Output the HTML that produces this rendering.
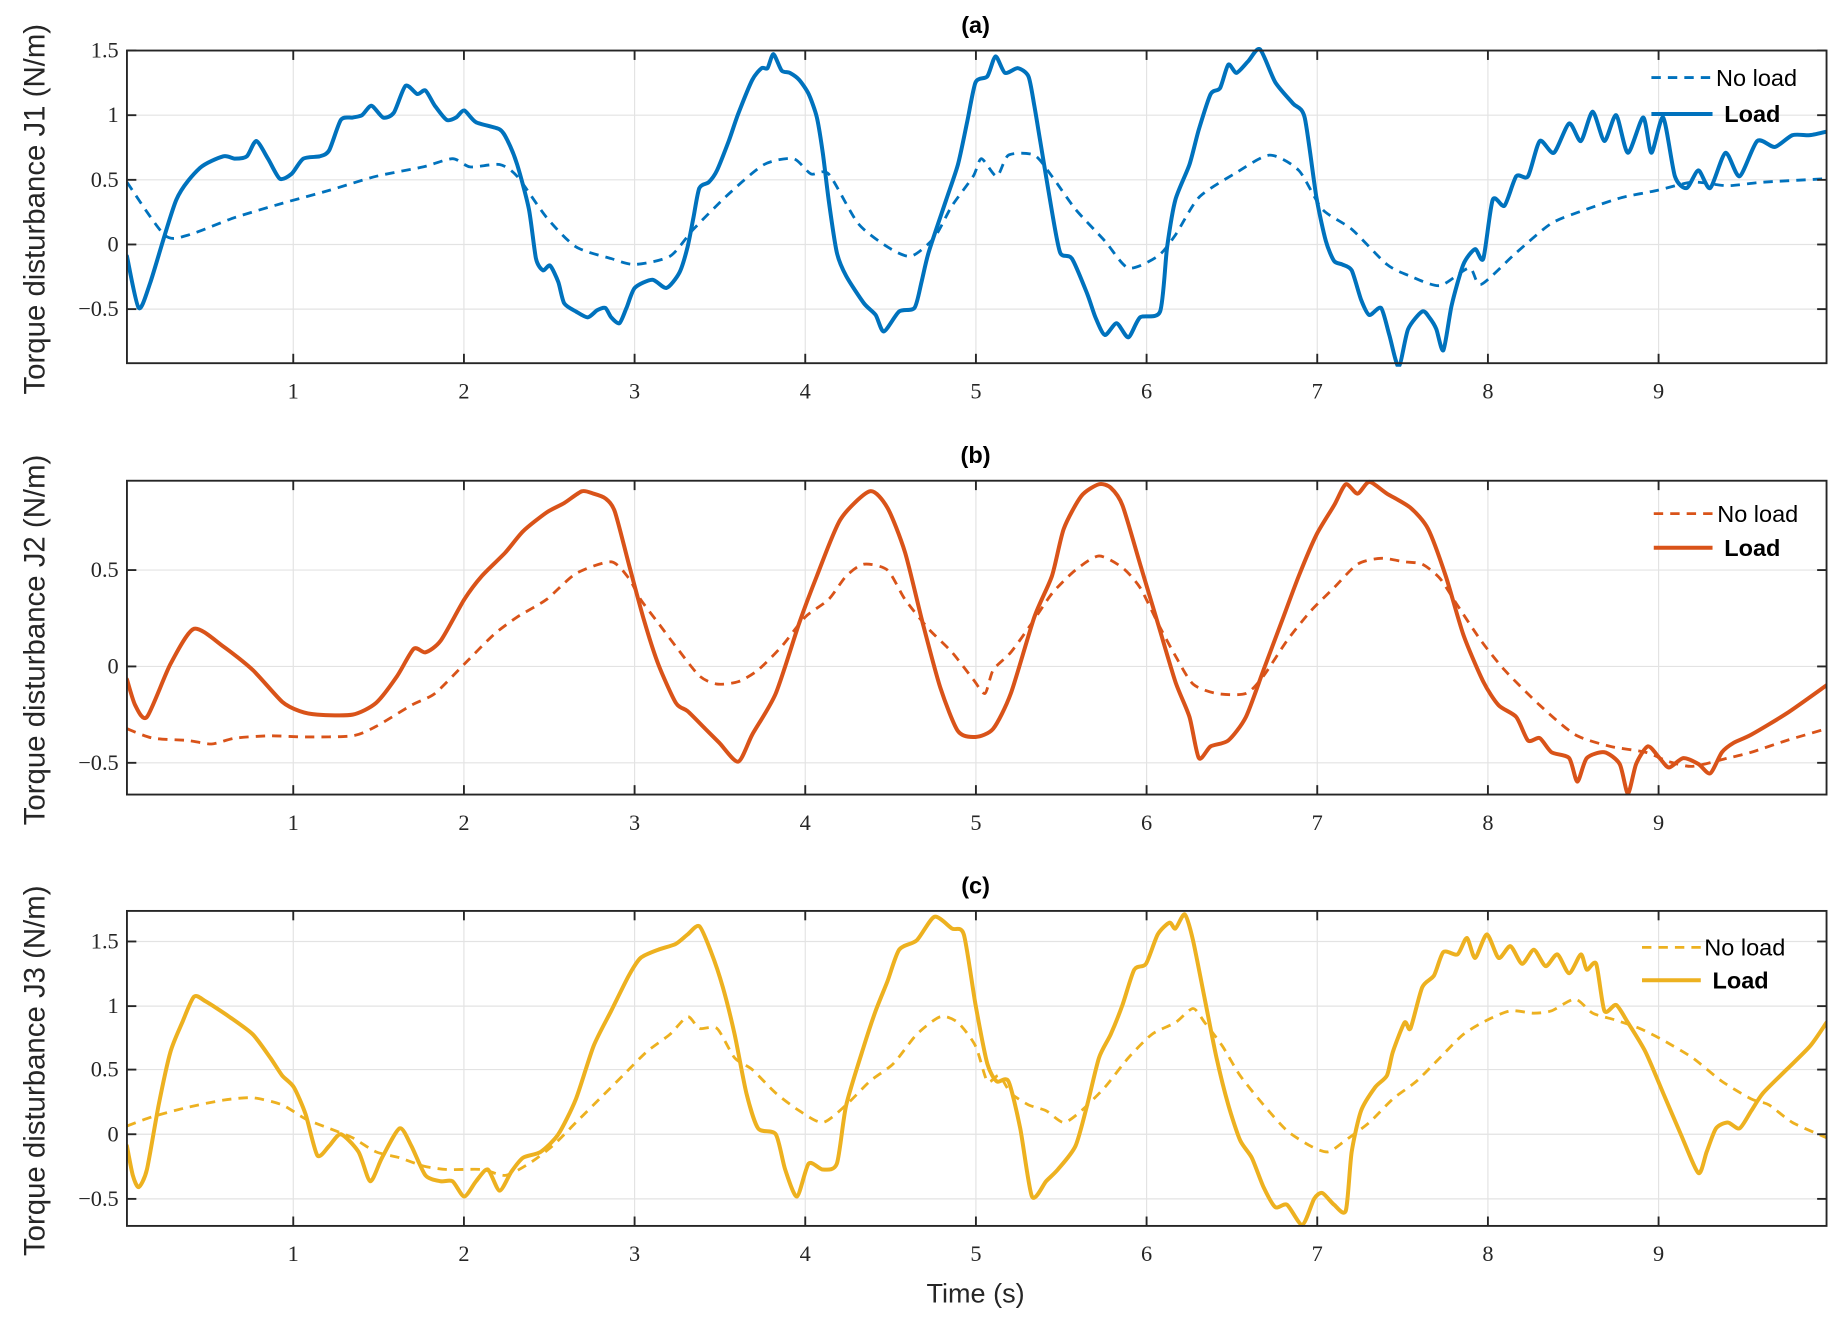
<!DOCTYPE html>
<html><head><meta charset="utf-8"><style>
html,body{margin:0;padding:0;background:#fff;}
svg{display:block;}
.tk{font-family:"Liberation Serif",serif;font-size:19px;fill:#262626;}
.yl{font-family:"Liberation Sans",sans-serif;font-size:25px;fill:#262626;}
.tl{font-family:"Liberation Sans",sans-serif;font-size:23px;fill:#262626;}
.tt{font-family:"Liberation Sans",sans-serif;font-size:20px;font-weight:bold;fill:#000;}
.lg{font-family:"Liberation Sans",sans-serif;font-size:20px;fill:#000;}
.lgb{font-family:"Liberation Sans",sans-serif;font-size:20px;font-weight:bold;fill:#000;}
.s{fill:none;stroke-width:3.4;stroke-linejoin:round;stroke-linecap:round;}
.d{fill:none;stroke-width:2.4;stroke-dasharray:8,6;stroke-linejoin:round;}
</style></head><body>
<svg width="1843" height="1329" viewBox="0 0 1568 1130.7" xmlns="http://www.w3.org/2000/svg">
<defs>
<clipPath id="ca"><rect x="108" y="40" width="1446" height="272"/></clipPath>
<clipPath id="cb"><rect x="108" y="406" width="1446" height="273"/></clipPath>
<clipPath id="cc"><rect x="108" y="772" width="1446" height="274"/></clipPath>
</defs>
</svg>
<script>
var svg=document.querySelector('svg');
var NS='http://www.w3.org/2000/svg';
function el(t,a,txt){var e=document.createElementNS(NS,t);for(var k in a)e.setAttribute(k,a[k]);if(txt!==undefined)e.textContent=txt;svg.appendChild(e);return e;}
var L=108,R=1554,x1=249.5,ux=145.2;
function panel(top,bot,yt){
  for(var i=1;i<=9;i++){var x=x1+(i-1)*ux;el('line',{x1:x,y1:top,x2:x,y2:bot,stroke:'#e3e3e3','stroke-width':1});}
  yt.forEach(function(p){el('line',{x1:L,y1:p[0],x2:R,y2:p[0],stroke:'#e3e3e3','stroke-width':1});});
}
function axes(top,bot,yt,title,ylabel){
  el('rect',{x:L,y:top,width:R-L,height:bot-top,fill:'none',stroke:'#262626','stroke-width':1.6});
  for(var i=1;i<=9;i++){var x=x1+(i-1)*ux;
    el('line',{x1:x,y1:bot,x2:x,y2:bot-8,stroke:'#262626','stroke-width':1.6});
    el('line',{x1:x,y1:top,x2:x,y2:top+8,stroke:'#262626','stroke-width':1.6});
    el('text',{x:x,y:bot+30,'text-anchor':'middle','class':'tk'},String(i));}
  yt.forEach(function(p){
    el('line',{x1:L,y1:p[0],x2:L+8,y2:p[0],stroke:'#262626','stroke-width':1.6});
    el('line',{x1:R,y1:p[0],x2:R-8,y2:p[0],stroke:'#262626','stroke-width':1.6});
    el('text',{x:101,y:p[0]+6,'text-anchor':'end','class':'tk'},p[1]);});
  el('text',{x:830,y:top-15,'text-anchor':'middle','class':'tt'},title);
  var cy=(top+bot)/2+2;
  el('text',{x:38,y:cy,'text-anchor':'middle','class':'yl',transform:'rotate(-90 38 '+cy+')'},ylabel);
}
function smooth(str){
  var p=str.trim().split(/\s+/).map(function(s){return s.split(',').map(Number);});
  var d='M'+p[0][0]+','+p[0][1];
  for(var i=0;i<p.length-1;i++){
    var p0=p[Math.max(0,i-1)],p1=p[i],p2=p[i+1],p3=p[Math.min(p.length-1,i+2)];
    var t=0.12;
    var c1x=p1[0]+(p2[0]-p0[0])*t,c1y=p1[1]+(p2[1]-p0[1])*t;
    var c2x=p2[0]-(p3[0]-p1[0])*t,c2y=p2[1]-(p3[1]-p1[1])*t;
    d+=' C'+c1x.toFixed(1)+','+c1y.toFixed(1)+' '+c2x.toFixed(1)+','+c2y.toFixed(1)+' '+p2[0]+','+p2[1];
  }
  return d;
}
function line(pts,col,dash,clip){
  el('path',{d:smooth(pts),'class':dash?'d':'s',stroke:col,'clip-path':'url(#'+clip+')'});
}
var ya=[[43,'1.5'],[98,'1'],[153,'0.5'],[208,'0'],[263,'\u22120.5']];
var yb=[[485,'0.5'],[567,'0'],[649,'\u22120.5']];
var yc=[[801,'1.5'],[856,'1'],[910,'0.5'],[965,'0'],[1020,'\u22120.5']];
panel(43,309,ya);panel(409,676,yb);panel(775,1043,yc);
var B='#0072BD',O='#D95319',Y='#EDB120';
line("108,155 140,200 160,200 200,185 240,173 280,162 320,150 360,142 385,135 400,142 425,140 440,150 465,185 490,210 520,220 540,225 570,218 590,195 620,165 650,140 675,135 690,148 705,148 730,190 755,210 775,218 795,202 810,175 828,150 835,135 848,150 858,132 880,132 895,150 915,178 940,205 960,228 985,218 1000,200 1020,168 1050,148 1080,132 1105,145 1125,178 1150,195 1180,225 1200,235 1225,243 1250,228 1260,242 1290,215 1320,190 1350,178 1380,168 1410,162 1440,155 1470,158 1500,155 1554,152",B,true,'ca');
line("108,218 118,262 128,240 150,170 170,143 190,133 200,135 210,133 218,120 228,135 238,152 248,148 258,135 272,133 280,128 290,102 300,100 308,98 316,90 326,100 335,96 345,73 355,80 362,77 370,90 380,102 388,100 395,94 405,104 425,110 432,120 440,140 450,178 456,220 462,230 468,226 475,240 480,258 490,265 500,270 508,264 515,262 520,270 527,275 533,262 540,245 555,238 567,245 578,232 585,210 590,185 595,160 603,155 610,145 620,120 628,97 640,68 648,58 653,58 658,46 665,60 672,62 680,68 688,80 695,100 700,130 705,170 712,215 720,235 735,258 745,268 752,282 765,265 778,262 784,240 790,215 805,170 815,140 823,103 830,70 840,65 847,48 855,62 866,58 875,65 880,90 885,120 895,180 902,215 912,220 925,250 932,270 940,285 950,275 960,287 970,270 987,265 993,210 1000,170 1012,140 1020,110 1030,80 1038,75 1045,55 1052,62 1062,52 1072,42 1085,70 1100,88 1110,100 1120,168 1128,205 1135,222 1142,225 1150,230 1158,255 1165,268 1175,262 1182,285 1190,312 1198,280 1210,265 1216,270 1222,280 1228,298 1235,260 1245,225 1255,212 1262,220 1270,170 1280,175 1290,150 1300,150 1310,120 1322,130 1335,105 1345,120 1355,95 1365,120 1375,98 1385,130 1398,100 1405,130 1415,100 1425,150 1435,160 1445,145 1455,160 1468,130 1480,150 1495,120 1510,125 1525,115 1540,115 1554,112",B,false,'ca');
line("108,620 130,628 160,630 180,633 200,628 230,626 260,627 300,626 320,618 350,600 370,590 395,565 420,540 440,525 465,510 490,488 520,478 535,492 545,510 560,530 575,550 595,575 610,582 628,580 645,570 665,550 685,525 705,510 720,490 735,480 755,485 770,510 790,535 810,555 828,578 838,590 845,570 860,555 878,530 895,505 915,485 935,473 955,483 970,500 985,530 1000,558 1015,582 1035,590 1060,590 1075,575 1095,545 1115,520 1135,500 1155,480 1175,475 1195,478 1210,480 1225,492 1240,515 1260,545 1280,570 1310,600 1340,625 1370,635 1400,640 1420,648 1440,652 1470,645 1490,640 1520,630 1554,620",O,true,'cb');
line("108,578 115,600 125,610 145,565 165,535 190,550 215,570 240,597 255,605 270,608 300,608 320,598 338,575 352,552 362,555 375,545 395,510 410,490 430,470 445,452 465,436 480,428 495,418 505,420 515,424 523,435 535,480 548,528 560,565 575,598 585,605 600,620 612,632 628,648 640,625 660,590 680,530 695,490 715,442 740,418 755,432 770,470 785,530 800,585 815,622 830,627 845,620 860,590 880,525 895,490 905,450 920,422 935,412 945,415 955,430 970,480 985,530 1000,580 1012,610 1020,645 1030,635 1045,630 1060,610 1075,570 1090,530 1105,490 1120,455 1135,430 1145,412 1155,420 1165,410 1180,420 1200,432 1215,450 1230,490 1245,540 1262,580 1275,600 1290,610 1300,630 1310,628 1320,640 1335,645 1342,665 1350,645 1365,640 1378,650 1385,675 1392,650 1402,635 1412,645 1420,653 1432,645 1445,650 1455,658 1465,640 1475,632 1490,625 1520,607 1554,583",O,false,'cb');
line("108,958 130,950 160,942 190,936 215,934 240,940 260,952 280,960 300,968 320,980 340,985 360,992 380,995 410,995 430,1000 450,990 470,975 490,955 510,935 530,915 550,895 570,880 585,865 595,875 610,875 625,900 640,910 660,930 680,945 700,955 720,940 740,920 760,905 780,880 800,865 815,870 830,890 840,920 850,915 860,930 875,940 890,945 905,955 920,945 940,925 960,900 980,880 1000,870 1015,858 1025,870 1040,890 1055,915 1075,940 1095,962 1115,975 1130,980 1145,970 1165,955 1185,935 1205,920 1225,900 1245,880 1265,868 1285,860 1305,862 1320,860 1340,850 1355,862 1375,868 1395,875 1415,885 1440,900 1465,920 1490,935 1505,940 1525,955 1554,968",Y,true,'cc');
line("108,975 113,1000 118,1010 125,995 135,940 145,895 155,870 165,848 175,852 195,865 215,880 230,900 240,915 250,925 260,948 270,983 280,975 290,965 305,980 315,1005 325,985 340,960 350,975 362,1000 375,1005 385,1005 395,1018 405,1005 415,995 425,1013 435,997 445,985 460,980 475,965 490,935 505,890 520,860 535,830 545,815 560,808 575,803 585,795 595,788 605,810 615,840 625,880 635,930 645,960 660,965 668,995 678,1018 688,990 700,995 712,990 720,940 735,890 745,860 755,835 765,808 780,800 795,780 810,790 820,795 830,855 840,905 848,920 858,920 868,960 878,1018 890,1005 900,995 915,975 925,940 935,900 945,880 955,855 965,825 975,820 985,795 995,785 1000,790 1008,778 1015,800 1025,850 1035,900 1045,940 1055,970 1065,985 1075,1010 1085,1027 1095,1025 1108,1042 1118,1020 1125,1015 1135,1025 1145,1030 1150,980 1158,945 1170,925 1180,915 1185,895 1195,870 1200,875 1210,840 1220,830 1228,810 1240,812 1248,798 1255,815 1265,795 1275,815 1285,805 1295,820 1305,808 1315,822 1325,812 1335,828 1345,812 1350,825 1358,820 1365,860 1375,855 1385,870 1400,895 1415,930 1430,965 1445,998 1452,980 1460,960 1470,955 1480,960 1490,945 1500,930 1520,910 1540,890 1554,870",Y,false,'cc');
axes(43,309,ya,'(a)','Torque disturbance J1 (N/m)');
axes(409,676,yb,'(b)','Torque disturbance J2 (N/m)');
axes(775,1043,yc,'(c)','Torque disturbance J3 (N/m)');
function legend(xa,xb,y1,y2,col,tx1,tx2){
  el('line',{x1:xa,y1:y1,x2:xb,y2:y1,stroke:col,'stroke-width':2.4,'stroke-dasharray':'8,6'});
  el('line',{x1:xa,y1:y2,x2:xb,y2:y2,stroke:col,'stroke-width':3.4});
  el('text',{x:tx1,y:y1+7,'class':'lg'},'No load');
  el('text',{x:tx2,y:y2+7,'class':'lgb'},'Load');
}
legend(1405,1457,66,97,B,1460,1467);
legend(1407,1457,437,466,O,1461,1467);
legend(1397,1447,806,834,Y,1450,1457);
el('text',{x:830,y:1108,'text-anchor':'middle','class':'tl'},'Time (s)');
</script>
</body></html>
